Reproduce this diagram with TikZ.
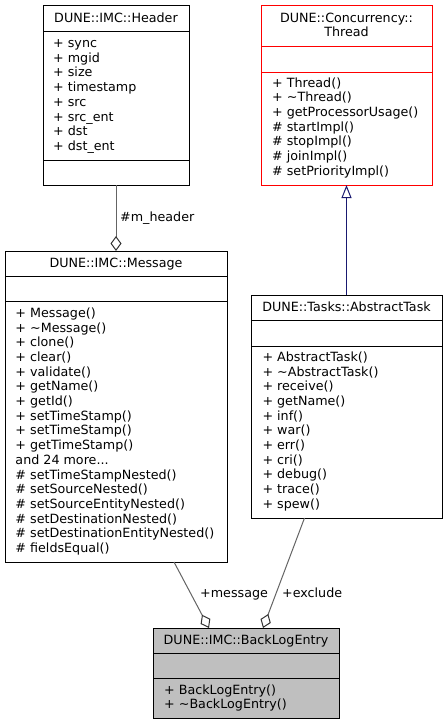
\documentclass[tikz,border=0pt]{standalone}
\usepackage{fontspec}
\setmainfont{DejaVu Sans}
\usetikzlibrary{arrows.meta}
\definecolor{linkgray}{RGB}{100,100,100}
\definecolor{entryfill}{RGB}{191,191,191}
\definecolor{inheritblue}{RGB}{25,25,112}
\newcommand{\msgmore}{and 24 more...}
\begin{document}
\begin{tikzpicture}[x=1pt, y={(0pt,-1pt)},
    font=\fontsize{12.7}{14.7}\selectfont,
    classbox/.style={draw, line width=1pt, inner sep=0pt, outer sep=0pt},
    member/.style={anchor=west, inner sep=0pt, text height=8pt, text depth=0pt},
    title/.style={inner sep=0pt, text height=8pt, text depth=0pt},
    aggr/.style={draw=linkgray, line width=1pt,
      -{Diamond[open, length=15pt, width=11pt, line width=1pt, color=black!80]}},
    inherit/.style={draw=inheritblue, line width=1pt,
      -{Triangle[open, length=13pt, width=10pt, line width=1pt]}}]
  \useasboundingbox (0,0) rectangle (447,725);
  % Header
  \node[classbox, minimum width=146pt, minimum height=179pt] (header) at (116,95.5) {};
  \node[title] at (116,18.5) {DUNE::IMC::Header};
  \draw[line width=1pt] (43,32) -- (189,32);
  \draw[line width=1pt] (43,160) -- (189,160);
  \foreach [count=\i] \m in {sync,mgid,size,timestamp,src,src\_ent,dst,dst\_ent}
    \node[member] at (53,{28.8+14.7*\i}) {+ \m};
  % Thread
  \node[classbox, draw=red, minimum width=171pt, minimum height=179pt] (thread) at (346.5,95.5) {};
  \node[title] at (346.5,18.5) {DUNE::Concurrency::};
  \node[title] at (346.5,32.5) {Thread};
  \draw[red, line width=1pt] (261,46.5) -- (432,46.5);
  \draw[red, line width=1pt] (261,72) -- (432,72);
  \foreach [count=\i] \m in {+ Thread(),+ \textasciitilde Thread(),+ getProcessorUsage(),
      \# startImpl(),\# stopImpl(),\# joinImpl(),\# setPriorityImpl()}
    \node[member] at (272,{68.3+14.7*\i}) {\m};
  % Message
  \node[classbox, minimum width=222pt, minimum height=311pt] (message) at (116,406.5) {};
  \node[title] at (116,263) {DUNE::IMC::Message};
  \draw[line width=1pt] (5,276.7) -- (227,276.7);
  \draw[line width=1pt] (5,301.7) -- (227,301.7);
  \foreach [count=\i] \m in {+ Message(),+ \textasciitilde Message(),+ clone(),+ clear(),
      + validate(),+ getName(),+ getId(),+ setTimeStamp(),+ setTimeStamp(),
      + getTimeStamp(),\msgmore,\# setTimeStampNested(),\# setSourceNested(),
      \# setSourceEntityNested(),\# setDestinationNested(),
      \# setDestinationEntityNested(),\# fieldsEqual()}
    \node[member] at (15.3,{298.6+14.7*\i}) {\m};
  % AbstractTask
  \node[classbox, minimum width=191pt, minimum height=223pt] (task) at (346.5,406.5) {};
  \node[title] at (346.5,307) {DUNE::Tasks::AbstractTask};
  \draw[line width=1pt] (251,320.3) -- (442,320.3);
  \draw[line width=1pt] (251,346) -- (442,346);
  \foreach [count=\i] \m in {AbstractTask(),\textasciitilde AbstractTask(),receive(),
      getName(),inf(),war(),err(),cri(),debug(),trace(),spew()}
    \node[member] at (262.3,{342.6+14.7*\i}) {+ \m};
  % BackLogEntry
  \node[classbox, fill=entryfill, minimum width=186pt, minimum height=90pt] (entry) at (246,673) {};
  \node[title] at (246,640) {DUNE::IMC::BackLogEntry};
  \draw[line width=1pt] (153,653.3) -- (339,653.3);
  \draw[line width=1pt] (153,678.3) -- (339,678.3);
  \foreach [count=\i] \m in {BackLogEntry(),\textasciitilde BackLogEntry()}
    \node[member] at (164,{675.5+14.7*\i}) {+ \m};
  % relations
  \draw[aggr] (header) -- (message);
  \node[member] (lheader) at (120,217) {\#m\_header};
  \draw[aggr] ([xshift=58pt]message.south) -- ([xshift=-37pt]entry.north);
  \node[member] (lmessage) at (200,593) {+message};
  \draw[aggr] ([xshift=-42pt]task.south) -- ([xshift=17pt]entry.north);
  \node[member] (lexclude) at (282,593) {+exclude};
  \draw[inherit] (task) -- (thread);
\end{tikzpicture}
\end{document}
